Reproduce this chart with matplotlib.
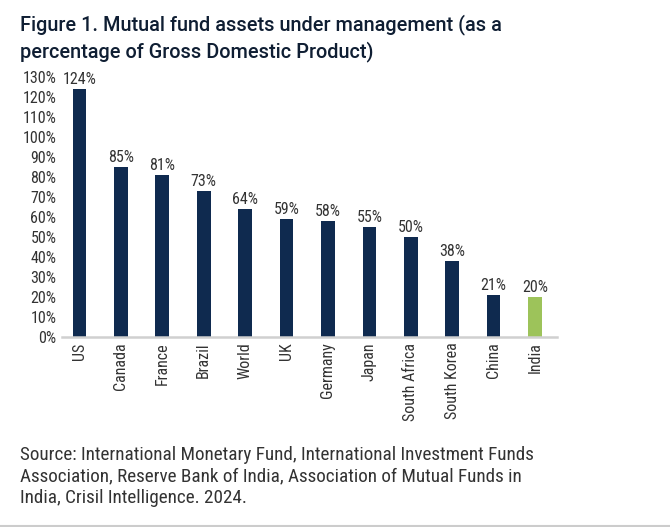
import matplotlib
matplotlib.use("Agg")
import matplotlib.pyplot as plt

countries = ["US", "Canada", "France", "Brazil", "World", "UK", "Germany", "Japan",
             "South Africa", "South Korea", "China", "India"]
values = [124, 85, 81, 73, 64, 59, 58, 55, 50, 38, 21, 20]
yticks = list(range(0, 131, 10))
title_lines = ["Figure 1. Mutual fund assets under management (as a",
               "percentage of Gross Domestic Product)"]
source = ("Source: International Monetary Fund, International Investment Funds\n"
          "Association, Reserve Bank of India, Association of Mutual Funds in\n"
          "India, Crisil Intelligence. 2024.")

plt.rcParams['font.family'] = ["Roboto Condensed", "DejaVu Sans"]

navy = "#0f2a4f"
green = "#9dc35a"
colors = [green if c == "India" else navy for c in countries]
fs = 11.5

fig = plt.figure(figsize=(6.7, 5.27), dpi=100)
ax = fig.add_axes([62/670, 1 - 337/527, (557-62)/670, (337-77)/527])
x = list(range(len(countries)))
ax.bar(x, values, width=0.33, color=colors)
for xi, v in zip(x, values):
    ax.text(xi, v + 1.0, f"{v}%", ha="center", va="bottom", fontsize=fs, color="#333333")
ax.set_ylim(0, 130)
ax.set_xlim(-0.42, len(countries) - 0.47)
ax.set_yticks(yticks)
ax.set_yticklabels([f"{t}%" for t in yticks], fontsize=fs, color="#333333")
ax.set_xticks(x)
ax.set_xticklabels(countries, rotation=90, fontsize=fs, color="#333333")
ax.tick_params(axis="both", length=0, pad=4)
for s in ["top", "right", "left"]:
    ax.spines[s].set_visible(False)
ax.spines["bottom"].set_color("#d0d0d0")
ax.spines["bottom"].set_linewidth(1.8)

for i, line in enumerate(title_lines):
    fig.text(20/670, 1 - (30 + 27*i)/527, line, ha="left", va="baseline", fontsize=14.3,
             fontweight="medium", family=["Roboto", "DejaVu Sans"], color="#0f1e33")
fig.text(20/670, 1 - 446/527, source, ha="left", va="top", fontsize=13.8,
         color="#333333", linespacing=1.25)
fig.add_artist(plt.Line2D([0, 1], [1/527, 1/527], color="#cccccc", lw=1.5))
fig.savefig("out.png", dpi=100)
